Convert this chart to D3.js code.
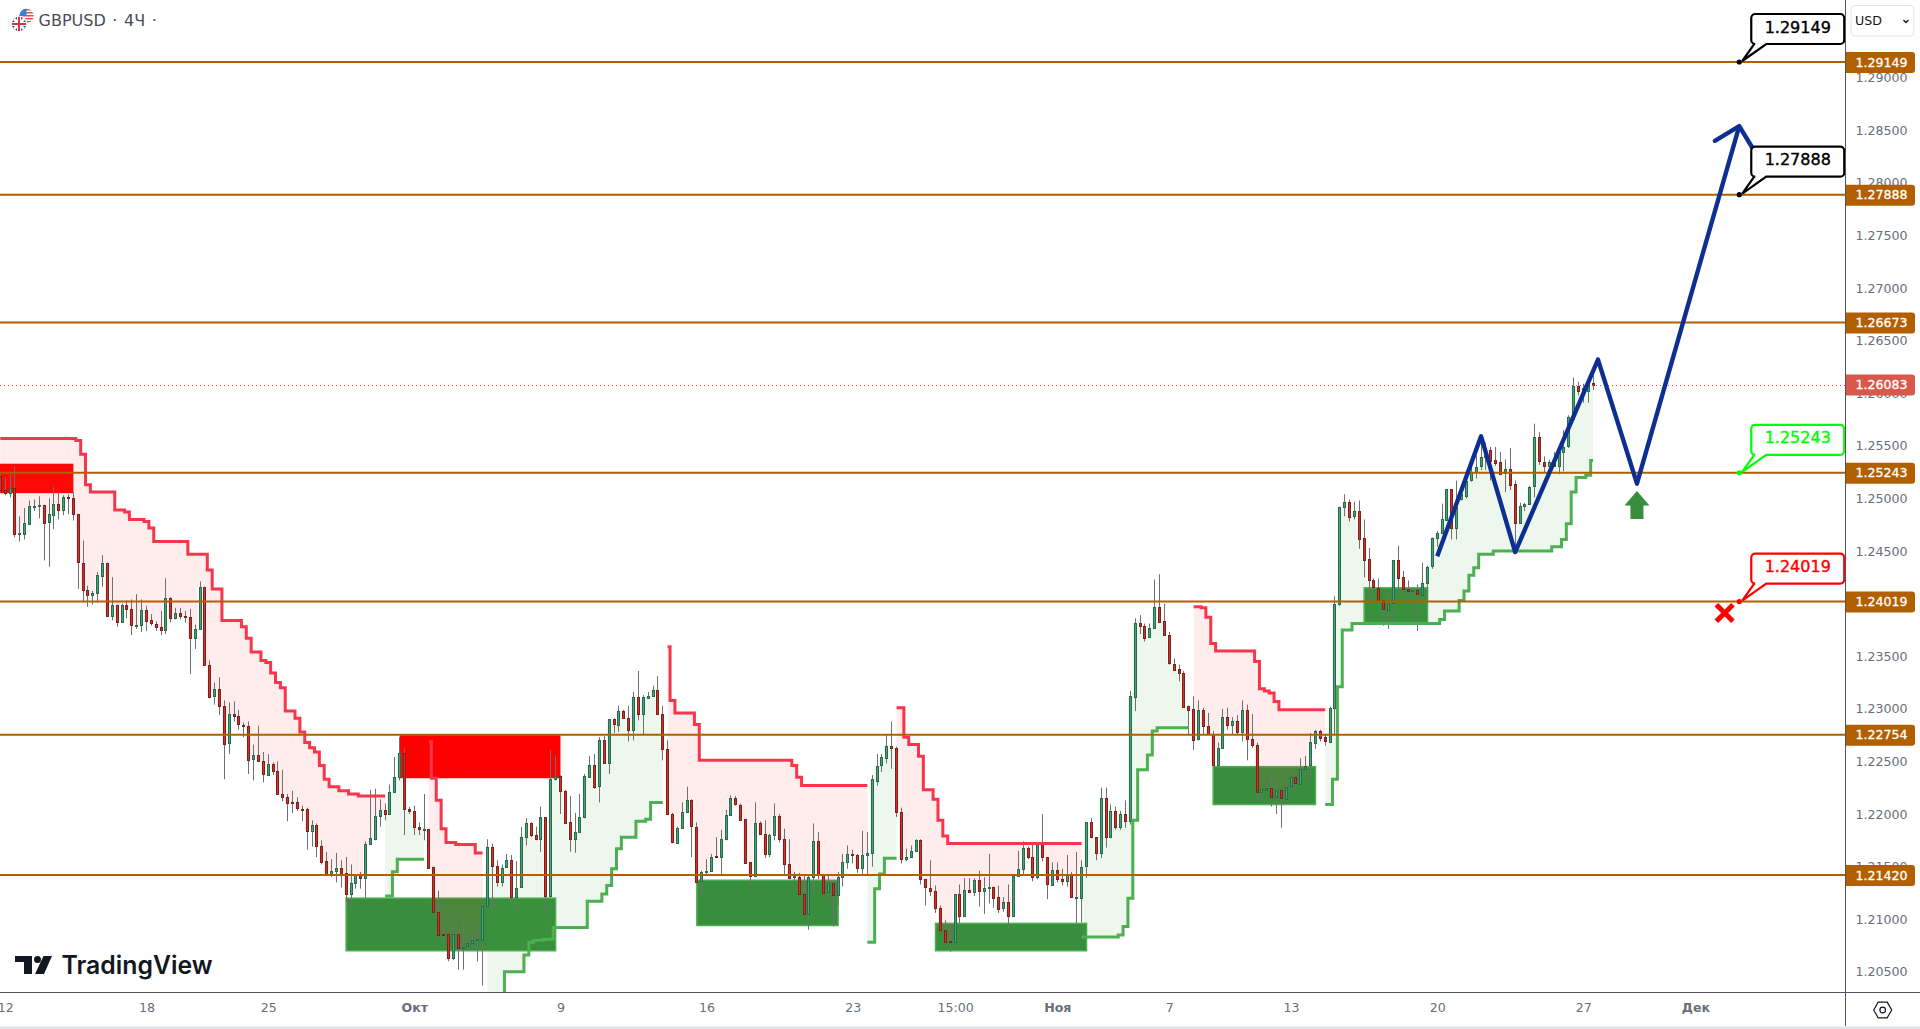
<!DOCTYPE html>
<html>
<head>
<meta charset="utf-8">
<title>GBPUSD</title>
<script src="https://cdn.jsdelivr.net/npm/d3@7"></script>
<style>
    html, body { margin: 0; padding: 0; background: #fff; overflow: hidden; }
    svg { display: block; }
    text { font-family: "DejaVu Sans", sans-serif; }
</style>
</head>
<body>
<div id="chart"></div>
<script>
// Candles, in 1/10000 of the price, one value per 4h bar
const barOpen = [
    12521,12508,12505,12510,12467,12467,12476,12492,12493,12494,
    12477,12485,12495,12489,12501,12500,12485,12439,12413,12408,
    12410,12427,12439,12389,12399,12383,12399,12395,12380,12380,
    12394,12384,12381,12378,12375,12405,12386,12391,12388,12387,
    12367,12376,12416,12342,12312,12319,12303,12267,12295,12293,
    12285,12284,12252,12256,12250,12238,12248,12241,12219,12216,
    12211,12211,12205,12205,12184,12190,12170,12155,12142,12146,
    12149,12144,12124,12134,12143,12139,12171,12176,12198,12204,
    12200,12221,12235,12258,12205,12203,12188,12186,12186,12150,
    12107,12086,12086,12063,12086,12073,12074,12077,12080,12081,
    12113,12169,12151,12136,12149,12156,12121,12130,12178,12191,
    12180,12176,12197,12122,12233,12236,12222,12192,12176,12183,
    12197,12236,12247,12226,12270,12248,12290,12285,12298,12291,
    12280,12311,12295,12310,12312,12318,12295,12262,12200,12173,
    12187,12202,12213,12188,12136,12145,12146,12160,12159,12176,
    12199,12215,12209,12195,12154,12141,12191,12181,12162,12180,
    12198,12176,12152,12140,12140,12124,12105,12140,12174,12142,
    12125,12134,12123,12140,12154,12162,12161,12149,12161,12163,
    12232,12246,12254,12265,12263,12202,12157,12159,12165,12175,
    12138,12130,12127,12111,12090,12079,12078,12124,12103,12128,
    12126,12137,12127,12130,12131,12121,12110,12116,12103,12141,
    12148,12168,12159,12140,12171,12159,12133,12147,12138,12136,
    12143,12121,12121,12150,12192,12178,12163,12215,12178,12203,
    12188,12200,12193,12312,12382,12379,12368,12377,12397,12383,
    12370,12343,12338,12334,12303,12300,12271,12299,12284,12276,
    12247,12263,12292,12284,12288,12278,12299,12271,12266,12221,
    12223,12225,12216,12223,12215,12226,12235,12229,12243,12246,
    12268,12279,12273,12269,12301,12400,12492,12497,12483,12488,
    12462,12442,12422,12415,12403,12394,12400,12441,12425,12414,
    12412,12413,12409,12420,12435,12462,12467,12480,12509,12472,
    12499,12503,12517,12525,12530,12539,12546,12537,12535,12524,
    12528,12514,12477,12493,12495,12511,12558,12535,12531,12535,
    12531,12544,12549,12576,12607,12601,12602,12610
];
const barClose = [
    12508,12505,12510,12466,12467,12477,12493,12493,12494,12477,
    12485,12495,12489,12501,12500,12485,12439,12413,12408,12410,
    12427,12439,12389,12399,12383,12399,12395,12380,12380,12394,
    12384,12381,12378,12375,12405,12386,12391,12388,12387,12367,
    12376,12416,12342,12312,12319,12303,12267,12295,12293,12285,
    12284,12252,12256,12250,12238,12248,12241,12219,12216,12210,
    12210,12205,12204,12184,12190,12170,12155,12142,12146,12149,
    12144,12124,12134,12143,12139,12171,12177,12198,12204,12200,
    12221,12235,12258,12205,12203,12188,12186,12186,12149,12107,
    12085,12085,12063,12086,12073,12074,12077,12080,12081,12113,
    12169,12151,12136,12149,12156,12121,12130,12178,12191,12180,
    12176,12197,12122,12233,12236,12222,12192,12176,12183,12197,
    12236,12247,12226,12270,12248,12290,12285,12298,12291,12280,
    12311,12295,12311,12312,12318,12295,12262,12200,12173,12187,
    12202,12213,12188,12136,12145,12146,12159,12159,12176,12199,
    12215,12209,12195,12153,12141,12191,12181,12162,12180,12198,
    12176,12152,12139,12141,12124,12105,12140,12174,12142,12125,
    12134,12123,12140,12154,12162,12161,12149,12161,12163,12233,
    12246,12254,12265,12263,12202,12157,12159,12165,12175,12138,
    12130,12127,12111,12090,12079,12078,12124,12103,12128,12126,
    12137,12127,12130,12131,12121,12110,12116,12103,12141,12148,
    12168,12159,12140,12171,12159,12133,12147,12138,12136,12143,
    12121,12121,12150,12192,12178,12163,12215,12178,12203,12188,
    12200,12193,12312,12382,12379,12368,12377,12397,12383,12370,
    12343,12337,12334,12302,12299,12271,12299,12284,12276,12247,
    12263,12292,12284,12288,12278,12299,12271,12265,12221,12224,
    12225,12216,12223,12215,12226,12235,12229,12243,12246,12268,
    12279,12272,12269,12301,12400,12492,12497,12483,12488,12461,
    12441,12422,12415,12403,12394,12400,12441,12424,12414,12412,
    12413,12409,12420,12435,12462,12467,12480,12509,12472,12492,
    12504,12517,12525,12530,12539,12546,12536,12534,12524,12528,
    12513,12477,12493,12495,12511,12558,12535,12531,12535,12531,
    12544,12549,12577,12607,12602,12605,12609,12608
];
const barHigh = [
    12523,12520,12523,12530,12483,12491,12498,12499,12502,12494,
    12500,12511,12506,12503,12504,12506,12485,12460,12417,12412,
    12430,12446,12439,12425,12399,12400,12403,12404,12409,12404,
    12398,12390,12383,12393,12424,12406,12396,12396,12393,12395,
    12380,12421,12416,12346,12325,12330,12308,12306,12307,12299,
    12287,12288,12266,12284,12259,12257,12249,12250,12242,12219,
    12222,12216,12208,12206,12194,12191,12175,12164,12157,12163,
    12156,12159,12152,12143,12145,12174,12223,12224,12214,12210,
    12228,12254,12273,12262,12207,12208,12192,12219,12186,12150,
    12127,12093,12086,12096,12089,12101,12086,12084,12093,12113,
    12176,12172,12156,12152,12162,12161,12155,12188,12196,12192,
    12188,12207,12197,12261,12255,12237,12223,12217,12201,12219,
    12238,12255,12257,12273,12274,12290,12291,12303,12299,12303,
    12316,12336,12313,12316,12322,12331,12303,12270,12201,12188,
    12211,12226,12214,12192,12146,12157,12162,12178,12185,12204,
    12218,12217,12210,12195,12154,12211,12193,12194,12181,12210,
    12200,12186,12176,12145,12144,12143,12141,12191,12183,12143,
    12143,12137,12145,12162,12170,12166,12162,12184,12183,12237,
    12257,12257,12275,12288,12264,12206,12167,12170,12176,12176,
    12138,12156,12132,12113,12099,12096,12124,12133,12139,12139,
    12139,12146,12140,12162,12131,12132,12121,12133,12142,12165,
    12174,12169,12173,12173,12200,12159,12154,12154,12148,12161,
    12145,12164,12156,12192,12196,12178,12225,12225,12209,12207,
    12203,12213,12317,12386,12389,12381,12381,12423,12428,12400,
    12373,12348,12342,12336,12303,12312,12308,12301,12296,12279,
    12268,12300,12301,12292,12294,12308,12304,12295,12268,12224,
    12228,12238,12230,12223,12231,12237,12235,12253,12255,12277,
    12280,12280,12275,12302,12407,12492,12504,12499,12497,12498,
    12480,12453,12424,12424,12403,12413,12441,12455,12431,12422,
    12415,12418,12439,12436,12463,12469,12495,12509,12509,12517,
    12511,12523,12530,12541,12560,12553,12549,12549,12544,12537,
    12548,12517,12496,12496,12512,12571,12563,12540,12537,12544,
    12547,12565,12579,12615,12611,12609,12614,12617
];
const barLow = [
    12506,12503,12501,12463,12459,12461,12475,12488,12481,12441,
    12435,12471,12480,12484,12485,12479,12414,12402,12397,12399,
    12401,12416,12389,12384,12378,12382,12386,12370,12376,12373,
    12374,12379,12374,12370,12371,12382,12385,12385,12382,12333,
    12357,12375,12342,12310,12304,12294,12233,12257,12288,12280,
    12273,12238,12232,12250,12230,12238,12237,12218,12212,12193,
    12201,12203,12193,12166,12169,12159,12152,12141,12140,12135,
    12130,12116,12110,12129,12129,12120,12171,12175,12188,12194,
    12199,12220,12232,12180,12200,12180,12180,12175,12148,12107,
    12085,12077,12060,12061,12052,12052,12070,12071,12060,12037,
    12113,12105,12131,12131,12149,12116,12107,12130,12170,12178,
    12175,12164,12105,12122,12232,12200,12192,12164,12163,12183,
    12196,12236,12224,12211,12248,12238,12277,12278,12291,12269,
    12270,12289,12275,12310,12312,12294,12251,12199,12172,12173,
    12186,12202,12159,12136,12122,12143,12145,12158,12143,12175,
    12198,12208,12194,12153,12132,12140,12180,12158,12159,12175,
    12173,12143,12138,12136,12124,12104,12090,12126,12138,12124,
    12118,12093,12113,12131,12148,12153,12144,12143,12142,12150,
    12227,12240,12248,12243,12197,12153,12155,12158,12164,12133,
    12113,12122,12106,12089,12077,12069,12078,12096,12103,12126,
    12122,12112,12105,12115,12111,12106,12107,12090,12103,12140,
    12143,12157,12136,12138,12155,12119,12132,12135,12132,12131,
    12120,12096,12097,12139,12177,12156,12158,12168,12177,12185,
    12185,12187,12190,12298,12371,12364,12368,12377,12382,12370,
    12342,12337,12326,12301,12275,12261,12270,12276,12276,12246,
    12245,12262,12280,12276,12275,12269,12251,12263,12212,12212,
    12219,12207,12200,12187,12212,12222,12223,12228,12235,12230,
    12262,12269,12265,12269,12276,12398,12483,12478,12480,12452,
    12425,12404,12406,12400,12379,12376,12381,12412,12406,12408,
    12403,12374,12403,12400,12433,12454,12467,12479,12461,12461,
    12498,12500,12516,12519,12527,12527,12517,12531,12523,12506,
    12508,12452,12476,12488,12494,12501,12532,12525,12530,12530,
    12523,12526,12548,12575,12598,12591,12591,12603
];

// Stepped trend lines: [bar where the level starts, level]. Last pair closes the run
const bearStep1 = [[0,12557],[16,12555],[17,12542],[18,12513],[19,12506],[24,12489],[26,12487],[27,12480],[30,12478],[31,12472],[32,12459],[39,12447],[43,12432],[44,12414],[46,12384],[50,12378],[51,12367],[52,12354],[54,12346],[55,12344],[56,12334],[57,12325],[58,12320],[59,12298],[61,12291],[62,12278],[63,12268],[64,12263],[65,12259],[66,12246],[67,12233],[68,12226],[70,12222],[72,12219],[74,12217],[79,12217]];
const bearStep2 = [[88,12269],[89,12234],[90,12213],[91,12186],[92,12173],[94,12171],[98,12163],[99,12163]];
const bearStep3 = [[137,12359],[138,12308],[139,12296],[143,12285],[144,12251],[163,12246],[164,12235],[165,12227],[178,12227]];
const bearStep4 = [[184,12301],[186,12273],[187,12266],[189,12255],[190,12223],[192,12214],[193,12194],[194,12179],[195,12172],[222,12172]];
const bearStep5 = [[245,12397],[247,12396],[248,12387],[249,12362],[250,12355],[258,12345],[259,12319],[260,12317],[261,12315],[262,12307],[263,12299],[272,12299]];
const bullStep1 = [[79,12122],[81,12145],[82,12157],[87,12157]];
const bullStep2 = [[100,12023],[104,12050],[108,12066],[109,12078],[110,12080],[112,12081],[114,12092],[121,12117],[124,12124],[125,12132],[126,12148],[127,12167],[128,12178],[131,12193],[133,12195],[134,12211],[136,12211]];
const bullStep3 = [[178,12078],[180,12129],[181,12143],[182,12158],[184,12158]];
const bullStep4 = [[222,12083],[230,12085],[231,12093],[232,12120],[233,12194],[234,12242],[236,12256],[237,12279],[238,12282],[244,12282]];
const bullStep5 = [[272,12209],[274,12233],[275,12321],[276,12375],[278,12381],[296,12385],[297,12393],[300,12403],[301,12412],[302,12427],[303,12434],[304,12447],[307,12450],[319,12454],[321,12461],[322,12476],[323,12506],[324,12520],[326,12522],[327,12536]];

// Zones: start bar, end bar, top, bottom
const bearZones = [[-1,15,12533,12505],[82,115,12275,12234]];
const bullZones = [[71,114,12120,12070],[143,172,12137,12094],[192,223,12096,12070],[249,270,12245,12209],[280,293,12415,12382]];

// Horizontal levels
const levelPrices = [1.29149, 1.27888, 1.26673, 1.25243, 1.24019, 1.22754, 1.21420];
const lastPrice = 1.26083;

// Forecast line and its arrow head: bar, price in 1/10000
const forecastBars = [295, 304, 311, 328, 336, 357];
const forecastVals = [12445, 12559, 12449, 12632, 12514, 12854];
const arrowBars = [352, 357, 360];
const arrowVals = [12840, 12854, 12831];

// Price callouts
const calloutPrices = [1.29149, 1.27888, 1.25243, 1.24019];
const calloutColors = ["#000000", "#000000", "#00ff00", "#ff0000"];
const calloutBar = 357;
const entryBar = 336, entryVal = 12507;
const stopBar = 354, stopVal = 12391;

// Axis labels
const priceTicks = d3.range(1.205, 1.2901, 0.005);
const timeBars = [1, 30, 55, 85, 115, 145, 175, 196, 217, 240, 265, 295, 325, 348];
const timeLabels = ["12", "18", "25", "Окт", "9", "16", "23", "15:00", "Ноя", "7", "13", "20", "27", "Дек"];
const boldLabels = ["Окт", "Ноя", "Дек"];

// Chart sizes
const width = 1920,
    height = 1029,
    plotRight = 1845,
    plotBottom = 992;

const svg = d3.select("#chart")
    .append("svg")
    .attr("width", width)
    .attr("height", height)
    .attr("viewBox", [0, 0, width, height]);

// Define scales
const x = d3.scaleLinear().domain([0, 100]).range([0.3, 487.4]);
const y = d3.scaleLinear().domain([1.29149, 1.2142]).range([62, 875]);
const pip = v => v / 10000;
const yp = v => y(pip(v));

svg.append("clipPath").attr("id", "plot")
    .append("rect").attr("width", plotRight).attr("height", plotBottom);

const plot = svg.append("g").attr("clip-path", "url(#plot)");

// Zones
plot.append("g").selectAll("rect").data(bearZones).join("rect")
    .attr("x", d => x(d[0]))
    .attr("y", d => yp(d[2]))
    .attr("width", d => x(d[1]) - x(d[0]))
    .attr("height", d => yp(d[3]) - yp(d[2]))
    .attr("fill", "#ff0000");

plot.append("g").selectAll("rect").data(bullZones).join("rect")
    .attr("x", d => x(d[0]))
    .attr("y", d => yp(d[2]))
    .attr("width", d => x(d[1]) - x(d[0]))
    .attr("height", d => yp(d[3]) - yp(d[2]))
    .attr("fill", "#388e3c")
    .attr("stroke", "#4caf50")
    .attr("stroke-width", 1.5);

// Carry each level forward so there is one point per bar
function perBar(steps) {
    const rows = [];
    for (let s = 0; s < steps.length - 1; s++) {
        for (let i = steps[s][0]; i < steps[s + 1][0]; i++) {
            rows.push({bar: i, level: steps[s][1]});
        }
    }
    const last = steps[steps.length - 1];
    rows.push({bar: last[0], level: last[1]});
    return rows;
}

const stepLine = d3.line()
    .curve(d3.curveStep)
    .x(d => x(d.bar))
    .y(d => yp(d.level));

const stepArea = d3.area()
    .curve(d3.curveStep)
    .x(d => x(d.bar))
    .y0(d => yp(d.level))
    .y1(d => yp(barClose[d.bar]));

const trends = [
    {steps: bearStep1, line: "#f7364c", fill: "rgba(255,70,70,0.1)"},
    {steps: bearStep2, line: "#f7364c", fill: "rgba(255,70,70,0.1)"},
    {steps: bearStep3, line: "#f7364c", fill: "rgba(255,70,70,0.1)"},
    {steps: bearStep4, line: "#f7364c", fill: "rgba(255,70,70,0.1)"},
    {steps: bearStep5, line: "#f7364c", fill: "rgba(255,70,70,0.1)"},
    {steps: bullStep1, line: "#4caf50", fill: "rgba(76,175,80,0.1)"},
    {steps: bullStep2, line: "#4caf50", fill: "rgba(76,175,80,0.1)"},
    {steps: bullStep3, line: "#4caf50", fill: "rgba(76,175,80,0.1)"},
    {steps: bullStep4, line: "#4caf50", fill: "rgba(76,175,80,0.1)"},
    {steps: bullStep5, line: "#4caf50", fill: "rgba(76,175,80,0.1)"}
];

// Fills under the candles
plot.append("g").selectAll("path").data(trends).join("path")
    .attr("d", d => stepArea(perBar(d.steps)))
    .attr("fill", d => d.fill);

// Candles
const candles = plot.append("g").selectAll("g")
    .data(barOpen.map((o, i) => ({i, o, h: barHigh[i], l: barLow[i], c: barClose[i]})))
    .join("g");

candles.append("line")
    .attr("x1", d => Math.floor(x(d.i)) + 0.5)
    .attr("x2", d => Math.floor(x(d.i)) + 0.5)
    .attr("y1", d => yp(d.h))
    .attr("y2", d => yp(d.l))
    .attr("stroke", "#707070")
    .attr("stroke-width", 1);

candles.append("rect")
    .attr("x", d => Math.floor(x(d.i)) - 0.5)
    .attr("y", d => Math.round(yp(Math.max(d.o, d.c))) + 0.5)
    .attr("width", 2)
    .attr("height", d => Math.max(1, Math.round(yp(Math.min(d.o, d.c)) - yp(Math.max(d.o, d.c)))))
    .attr("fill", d => d.c >= d.o ? "#46a577" : "#d92f2a")
    .attr("stroke", d => d.c >= d.o ? "#2a6a4c" : "#78241a")
    .attr("stroke-width", 1);

// Trend lines
plot.append("g").selectAll("path").data(trends).join("path")
    .attr("d", d => stepLine(perBar(d.steps)))
    .attr("fill", "none")
    .attr("stroke", d => d.line)
    .attr("stroke-width", 3);

// Levels
plot.append("g").selectAll("line").data(levelPrices).join("line")
    .attr("x1", 0)
    .attr("x2", plotRight)
    .attr("y1", d => y(d))
    .attr("y2", d => y(d))
    .attr("stroke", "#b25f00")
    .attr("stroke-width", 2);

// Last price line
plot.append("line")
    .attr("x1", 0)
    .attr("x2", plotRight)
    .attr("y1", Math.round(y(lastPrice)) + 0.5)
    .attr("y2", Math.round(y(lastPrice)) + 0.5)
    .attr("stroke", "#e2514c")
    .attr("stroke-dasharray", "1 3");

// Forecast line with arrow head
const plainLine = d3.line().x(d => x(d[0])).y(d => yp(d[1]));

plot.append("path")
    .attr("d", plainLine(forecastBars.map((b, i) => [b, forecastVals[i]])))
    .attr("fill", "none")
    .attr("stroke", "#0e2f92")
    .attr("stroke-width", 4.4)
    .attr("stroke-linejoin", "round");

plot.append("path")
    .attr("d", plainLine(arrowBars.map((b, i) => [b, arrowVals[i]])))
    .attr("fill", "none")
    .attr("stroke", "#0e2f92")
    .attr("stroke-width", 4.4)
    .attr("stroke-linecap", "round")
    .attr("stroke-linejoin", "round");

// Entry arrow
const ex = x(entryBar), ey = yp(entryVal);
plot.append("path")
    .attr("d", d3.line()([[ex, ey], [ex + 12.5, ey + 14.5], [ex + 6.5, ey + 14.5], [ex + 6.5, ey + 28],
        [ex - 6.5, ey + 28], [ex - 6.5, ey + 14.5], [ex - 12.5, ey + 14.5]]) + "Z")
    .attr("fill", "#388e3c");

// Stop cross
const sx = x(stopBar), sy = yp(stopVal);
plot.append("path")
    .attr("d", `M${sx - 6.5},${sy - 6.5}L${sx + 6.5},${sy + 6.5}M${sx + 6.5},${sy - 6.5}L${sx - 6.5},${sy + 6.5}`)
    .attr("stroke", "#ff0000")
    .attr("stroke-width", 5)
    .attr("stroke-linecap", "square")
    .attr("fill", "none");

// Callouts
function calloutShape(px, py) {
    const l = px + 12, r = px + 105, t = py - 48, b = py - 18, rad = 4;
    const p = d3.path();
    p.moveTo(l + rad, t);
    p.lineTo(r - rad, t);
    p.arcTo(r, t, r, t + rad, rad);
    p.lineTo(r, b - rad);
    p.arcTo(r, b, r - rad, b, rad);
    p.lineTo(px + 27, b);
    p.lineTo(px + 3, py - 1);
    p.lineTo(px + 15, b);
    p.lineTo(l + rad, b);
    p.arcTo(l, b, l, b - rad, rad);
    p.lineTo(l, t + rad);
    p.arcTo(l, t, l + rad, t, rad);
    p.closePath();
    return p.toString();
}

const callouts = svg.append("g").selectAll("g").data(calloutPrices).join("g");

callouts.append("path")
    .attr("d", d => calloutShape(x(calloutBar), y(d)))
    .attr("fill", "#fff")
    .attr("stroke", (d, i) => calloutColors[i])
    .attr("stroke-width", 2.2);

callouts.append("circle")
    .attr("cx", x(calloutBar))
    .attr("cy", d => y(d))
    .attr("r", 2.6)
    .attr("fill", (d, i) => calloutColors[i]);

callouts.append("text")
    .attr("x", x(calloutBar) + 58.5)
    .attr("y", d => y(d) - 34)
    .attr("text-anchor", "middle")
    .attr("dominant-baseline", "middle")
    .attr("fill", (d, i) => calloutColors[i])
    .attr("stroke", (d, i) => calloutColors[i])
    .attr("stroke-width", 0.4)
    .style("font-size", "16px")
    .text(d => d.toFixed(5));

// Add price axis
const priceAxis = svg.append("g")
    .attr("transform", `translate(${plotRight + 0.5},0)`)
    .call(d3.axisRight(y)
        .tickValues(priceTicks)
        .tickSize(0)
        .tickSizeOuter(0)
        .tickFormat(d3.format(".5f")));
priceAxis.select(".domain").remove();
priceAxis.selectAll("text")
    .attr("x", 36)
    .attr("text-anchor", "middle")
    .attr("fill", "#6a6d78")
    .style("font-size", "12.6px");

svg.append("line")
    .attr("x1", plotRight + 0.5).attr("x2", plotRight + 0.5)
    .attr("y1", 0).attr("y2", 1026)
    .attr("stroke", "#50535e");

// Price tags
const tags = svg.append("g").selectAll("g")
    .data(levelPrices.map(p => ({p, color: "#b25f00"})).concat([{p: lastPrice, color: "#d8584a"}]))
    .join("g")
    .attr("transform", d => `translate(${plotRight + 1},${y(d.p)})`);

tags.append("path")
    .attr("d", "M0,-10H66a3,3 0 0 1 3,3V8a3,3 0 0 1 -3,3H0Z")
    .attr("fill", d => d.color);

tags.append("text")
    .attr("x", 35.5)
    .attr("y", 1)
    .attr("text-anchor", "middle")
    .attr("dominant-baseline", "middle")
    .attr("fill", "#fff")
    .attr("stroke", "#fff")
    .attr("stroke-width", 0.3)
    .style("font-size", "12.6px")
    .text(d => d.p.toFixed(5));

// Add time axis
const timeAxis = svg.append("g")
    .attr("transform", `translate(0,${plotBottom + 0.5})`)
    .call(d3.axisBottom(x)
        .tickValues(timeBars)
        .tickSize(0)
        .tickSizeOuter(0)
        .tickFormat(d => timeLabels[timeBars.indexOf(d)]));
timeAxis.select(".domain").remove();
timeAxis.selectAll("text")
    .attr("y", 11)
    .attr("dy", "0.71em")
    .attr("fill", "#6a6d78")
    .style("font-size", "12.6px")
    .attr("font-weight", d => boldLabels.includes(timeLabels[timeBars.indexOf(d)]) ? 700 : 400);

svg.append("line")
    .attr("x1", 0).attr("x2", width)
    .attr("y1", plotBottom + 0.5).attr("y2", plotBottom + 0.5)
    .attr("stroke", "#50535e");

svg.append("rect")
    .attr("x", 0).attr("y", 1026.5)
    .attr("width", width).attr("height", 2.5)
    .attr("fill", "#e0e3eb");

// Settings icon
svg.append("path")
    .attr("d", d3.line()(d3.range(6).map(k => [1882.7 + 9 * Math.cos(k * Math.PI / 3), 1010 + 9 * Math.sin(k * Math.PI / 3)])) + "Z")
    .attr("fill", "none")
    .attr("stroke", "#131722")
    .attr("stroke-width", 1.2);
svg.append("circle")
    .attr("cx", 1882.7).attr("cy", 1010).attr("r", 2.8)
    .attr("fill", "none").attr("stroke", "#131722").attr("stroke-width", 1.2);

// Currency button
svg.append("rect")
    .attr("x", 1851).attr("y", 5.5)
    .attr("width", 63).attr("height", 30.5)
    .attr("rx", 4)
    .attr("fill", "#fff")
    .attr("stroke", "#e0e3eb");
svg.append("text")
    .attr("x", 1855).attr("y", 21)
    .attr("dominant-baseline", "middle")
    .attr("fill", "#131722")
    .style("font-size", "12.6px")
    .text("USD");
svg.append("path")
    .attr("d", "M1903.5,20l2.5,2.5l2.5,-2.5")
    .attr("fill", "none")
    .attr("stroke", "#131722")
    .attr("stroke-width", 1.4);

// Symbol title and flags
const defs = svg.append("defs");
defs.append("clipPath").attr("id", "flagUs").append("circle").attr("cx", 26.5).attr("cy", 16).attr("r", 7.2);
defs.append("clipPath").attr("id", "flagUk").append("circle").attr("cx", 19).attr("cy", 24).attr("r", 7.2);

const us = svg.append("g").attr("clip-path", "url(#flagUs)");
us.append("rect").attr("x", 19).attr("y", 8).attr("width", 16).attr("height", 16).attr("fill", "#fff");
for (const k of [0, 1, 2, 3, 4]) {
    us.append("rect").attr("x", 19).attr("y", 9 + k * 3).attr("width", 16).attr("height", 1.5).attr("fill", "#e0524f");
}
us.append("rect").attr("x", 19).attr("y", 8).attr("width", 7.5).attr("height", 8).attr("fill", "#3d7fd6");

svg.append("circle").attr("cx", 19).attr("cy", 24).attr("r", 8.2).attr("fill", "#fff");
const uk = svg.append("g").attr("clip-path", "url(#flagUk)");
uk.append("rect").attr("x", 11).attr("y", 16).attr("width", 16).attr("height", 16).attr("fill", "#2f4f9e");
uk.append("path").attr("d", "M11,16L27,32M27,16L11,32").attr("stroke", "#fff").attr("stroke-width", 3);
uk.append("path").attr("d", "M19,16V32M11,24H27").attr("stroke", "#fff").attr("stroke-width", 4);
uk.append("path").attr("d", "M19,16V32M11,24H27").attr("stroke", "#d9343a").attr("stroke-width", 2);

svg.append("text")
    .attr("x", 38.5).attr("y", 21)
    .attr("dominant-baseline", "middle")
    .attr("fill", "#4a4d57")
    .attr("word-spacing", 1.5)
    .style("font-size", "16px")
    .text("GBPUSD · 4Ч ·");

// TradingView logo
svg.append("path")
    .attr("d", "M15,956H32V974H24V962H15Z")
    .attr("fill", "#131722");
svg.append("circle")
    .attr("cx", 37.5).attr("cy", 959.5).attr("r", 3.5)
    .attr("fill", "#131722");
svg.append("path")
    .attr("d", "M43.5,956H52L44,974H35Z")
    .attr("fill", "#131722");
svg.append("text")
    .attr("x", 61.5).attr("y", 974)
    .attr("fill", "#131722")
    .attr("font-weight", 600)
    .attr("textLength", 151)
    .attr("lengthAdjust", "spacingAndGlyphs")
    .style("font-family", "Inter, sans-serif")
    .style("font-size", "25px")
    .text("TradingView");
</script>
</body>
</html>
